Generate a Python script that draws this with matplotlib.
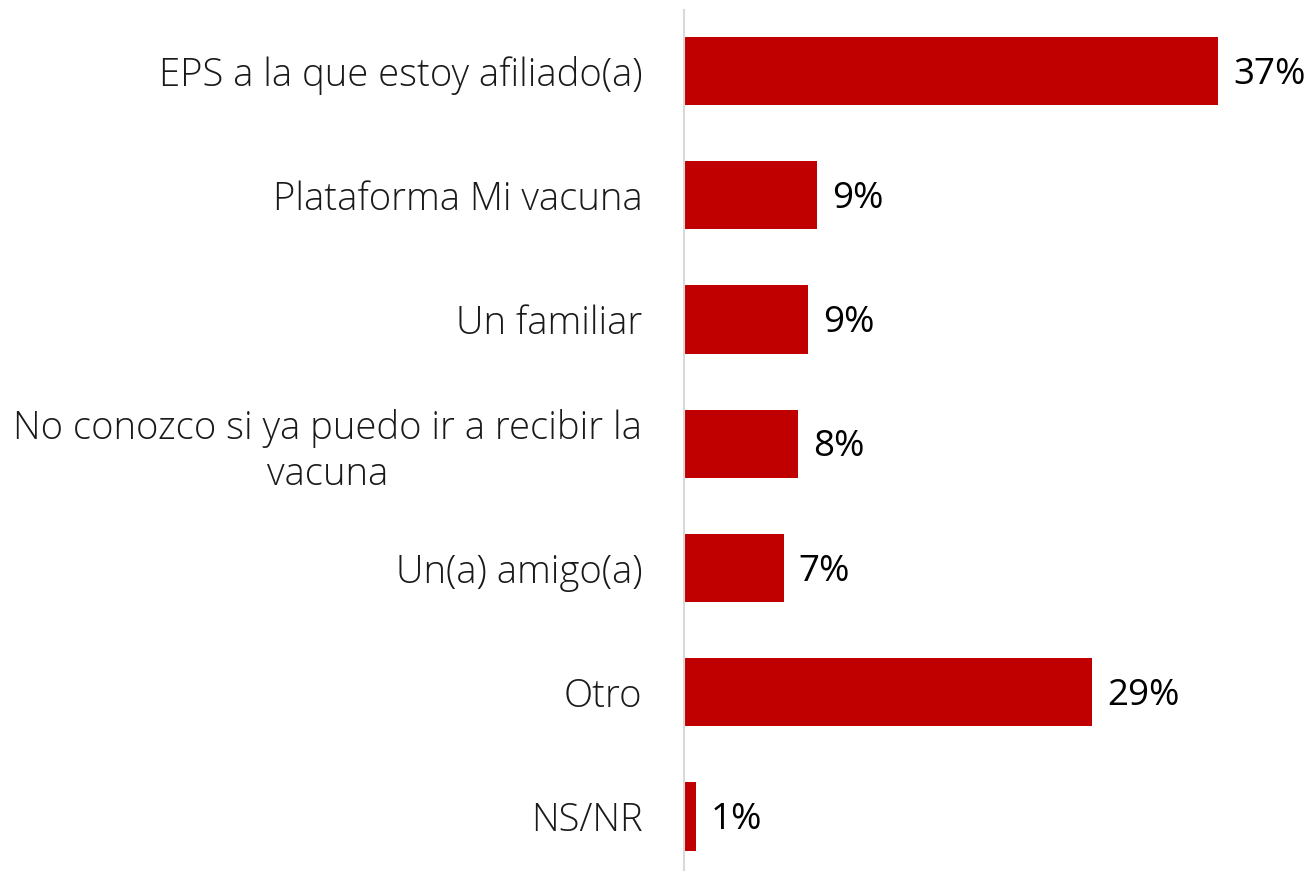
import matplotlib
matplotlib.use("Agg")
import matplotlib.pyplot as plt

categories = ["EPS a la que estoy afiliado(a)", "Plataforma Mi vacuna", "Un familiar",
              "No conozco si ya puedo ir a recibir la\nvacuna", "Un(a) amigo(a)", "Otro", "NS/NR"]
values = [37.0, 9.2, 8.6, 7.9, 6.9, 28.3, 0.8]
labels = ["37%", "9%", "9%", "8%", "7%", "29%", "1%"]

W, H = 1314, 873
fig = plt.figure(figsize=(W/100, H/100), dpi=100)
left_px, right_px, top_px, bot_px = 684, 1314, 10, 870
ax = fig.add_axes([left_px/W, 1-bot_px/H, (right_px-left_px)/W, (bot_px-top_px)/H])

ypos = list(range(len(categories)))
ax.barh(ypos, values, height=0.55, color="#c00000")
scale = (1218-684)/37.0
ax.set_xlim(0, (right_px-left_px)/scale)
ax.set_ylim(6.43, -0.49)

for y, v, lab in zip(ypos, values, labels):
    ax.text(v + 15/scale, y + 0.03, lab, va="center", ha="left", fontsize=26.5,
            family="Open Sans", color="black")

ax.set_yticks(ypos)
ax.set_yticklabels(categories, fontsize=27.5, family="Open Sans", fontweight="light",
                   multialignment="center", linespacing=1.25, color="#1a1a1a")
ax.tick_params(axis="y", length=0, pad=30)
ax.set_xticks([])
for s in ["top", "right", "bottom"]:
    ax.spines[s].set_visible(False)
ax.spines["left"].set_color("#d9d9d9")
ax.spines["left"].set_linewidth(1.5)

fig.savefig("out.png", dpi=100)
